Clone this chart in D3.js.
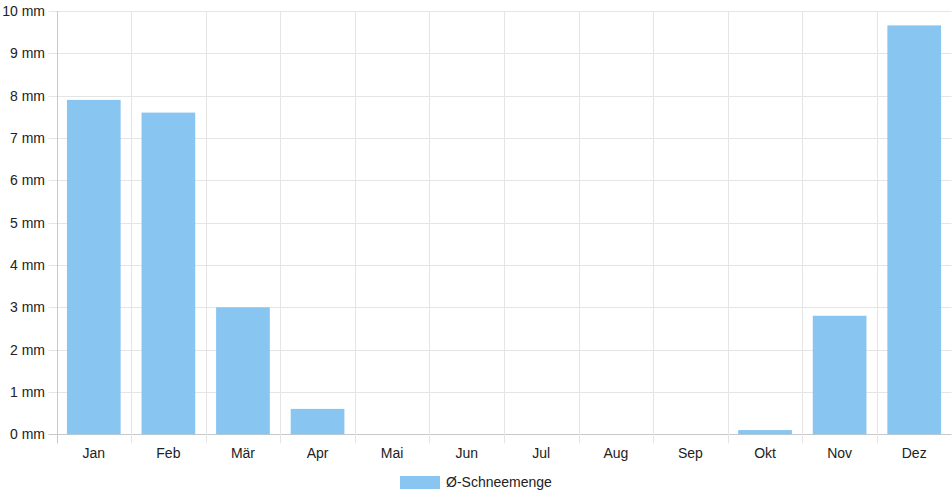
<!DOCTYPE html>
<html><head><meta charset="utf-8">
<script src="https://cdn.jsdelivr.net/npm/d3@7"></script>
<style>body{margin:0;background:#fff}svg{display:block;font-family:"Liberation Sans",Arial,Helvetica,sans-serif}</style>
</head><body>
<svg id="c" width="952" height="500"></svg>
<script>
const months = ["Jan","Feb","Mär","Apr","Mai","Jun","Jul","Aug","Sep","Okt","Nov","Dez"];
const snow = [7.9,7.6,3.0,0.6,0,0,0,0,0,0.1,2.8,9.66];
const yTicks = [0,1,2,3,4,5,6,7,8,9,10];
const seriesName = "Ø-Schneemenge";

const svg = d3.select("#c");
const m = {l:56.5, r:951.5, t:11, b:434.3};
const x = d3.scaleBand().domain(months).range([m.l, m.r]);
const y = d3.scaleLinear().domain([0,10]).range([m.b, m.t]);
const grid = "#e5e5e5", textCol = "#222", col = "#88c5f1";

// horizontal grid
svg.append("g").selectAll("line").data(yTicks).join("line")
  .attr("x1", m.l-8).attr("x2", m.r)
  .attr("y1", d=>Math.round(y(d))+0.5).attr("y2", d=>Math.round(y(d))+0.5)
  .attr("stroke", d=> d===0 ? "#c8c8c8" : grid);
// vertical grid
const vx = months.map(mo=>x(mo)).concat([m.r]);
svg.append("g").selectAll("line").data(vx).join("line")
  .attr("x1", d=>Math.round(d)+0.5).attr("x2", d=>Math.round(d)+0.5)
  .attr("y1", m.t).attr("y2", m.b+9)
  .attr("stroke", (d,i)=> i===0 ? "#c8c8c8" : grid);

// bars
const bw = x.bandwidth()*0.72;
svg.append("g").selectAll("rect").data(months).join("rect")
  .attr("x", (d)=>x(d)+(x.bandwidth()-bw)/2)
  .attr("width", bw)
  .attr("y", (d,i)=>y(snow[i]))
  .attr("height", (d,i)=>y(0)-y(snow[i]))
  .attr("fill", col);

// y labels
svg.append("g").selectAll("text").data(yTicks).join("text")
  .attr("x", 45).attr("y", d=>y(d)).attr("dy","0.35em")
  .attr("text-anchor","end").attr("font-size",14).attr("fill",textCol)
  .text(d=>d+" mm");
// x labels
svg.append("g").selectAll("text").data(months).join("text")
  .attr("x", d=>x(d)+x.bandwidth()/2).attr("y", 453).attr("dy","0.35em")
  .attr("text-anchor","middle").attr("font-size",14).attr("fill",textCol)
  .text(d=>d);

// legend
svg.append("rect").attr("x",400).attr("y",476).attr("width",40).attr("height",13).attr("fill",col);
svg.append("text").attr("x",446).attr("y",482.5).attr("dy","0.35em")
  .attr("font-size",14).attr("fill",textCol).text(seriesName);
</script>
</body></html>
